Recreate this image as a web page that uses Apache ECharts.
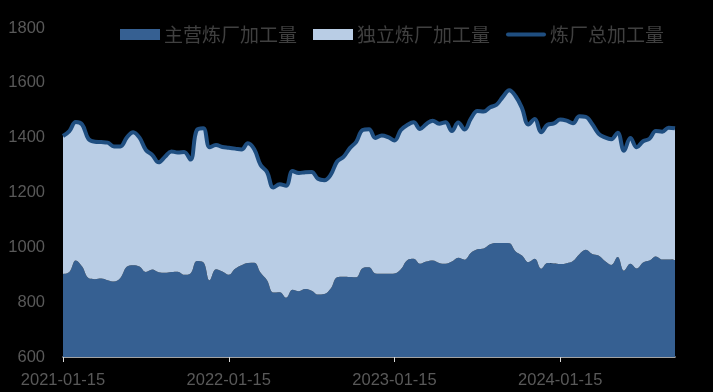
<!DOCTYPE html>
<html>
<head>
<meta charset="utf-8">
<script src="https://cdn.jsdelivr.net/npm/echarts@6/dist/echarts.min.js"></script>
<style>
html,body{margin:0;padding:0;background:#000;}
#chart{width:713px;height:392px;}
</style>
</head>
<body>
<div id="chart"></div>
<script>
// Biweekly observation dates starting 2021-01-15 (97 points)
var startDate = '2021-01-15';
var pointCount = 97;
var tickLabels = ['2021-01-15', '2022-01-15', '2023-01-15', '2024-01-15'];
var labelEvery = 26;

// 主营炼厂加工量
var mainRefinery = [903,910,952,930,888,884,886,880,875,888,
  929,935,930,910,919,909,907,910,911,900,
  905,950,946,880,920,912,900,922,935,943,
  944,907,880,835,836,816,845,840,848,842,
  828,830,850,891,893,892,891,924,927,905,
  904,904,905,920,953,958,940,948,952,943,
  940,948,962,955,980,993,996,1011,1016,1016,
  1015,985,970,946,958,922,943,941,939,942,
  950,975,991,976,970,950,936,965,915,940,
  923,945,952,967,956,956,954];

// 独立炼厂加工量
var independentRefinery = [503,514,505,518,507,501,498,502,493,480,
  471,485,470,445,418,401,423,440,435,448,
  415,478,488,485,453,454,463,438,422,437,
  414,393,395,383,394,409,433,431,426,433,
  422,415,415,422,437,470,494,504,504,494,
  504,498,485,508,493,498,492,502,510,508,
  516,476,493,475,490,504,499,500,504,533,
  558,566,538,502,510,498,504,511,527,520,
  503,503,485,474,445,451,458,453,437,459,
  442,442,444,457,466,480,480];

// 炼厂总加工量
var totalRefinery = [1406,1424,1457,1448,1395,1385,1384,1382,1368,1368,
  1400,1420,1400,1355,1337,1310,1330,1350,1346,1348,
  1320,1428,1434,1365,1373,1366,1363,1360,1357,1380,
  1358,1300,1275,1218,1230,1225,1278,1271,1274,1275,
  1250,1245,1265,1313,1330,1362,1385,1428,1431,1399,
  1408,1402,1390,1428,1446,1456,1432,1450,1462,1451,
  1456,1424,1455,1430,1470,1497,1495,1511,1520,1549,
  1573,1551,1508,1448,1468,1420,1447,1452,1466,1462,
  1453,1478,1476,1450,1415,1401,1394,1418,1352,1399,
  1365,1387,1396,1424,1422,1436,1434];

var categories = [];
(function(){
  var d = new Date(startDate + 'T00:00:00Z');
  for (var i = 0; i < pointCount; i++) {
    var dd = new Date(d.getTime() + i * 14 * 86400000);
    categories.push(dd.toISOString().slice(0, 10));
  }
})();

var chart = echarts.init(document.getElementById('chart'), null, {renderer: 'canvas'});
var axisFont = '"Liberation Sans", Arial, sans-serif';
var cjkFont = '"Noto Sans CJK SC", sans-serif';
var lineIcon = 'path://M0,0 M40,11 M2,3.5 L38,3.5 A2,2 0 0 1 38,7.5 L2,7.5 A2,2 0 0 1 2,3.5 Z';

chart.setOption({
  backgroundColor: '#000000',
  animation: false,
  grid: {left: 63, right: 38, top: 28, bottom: 35, containLabel: false},
  legend: {
    left: 120,
    top: 25,
    padding: 0,
    itemWidth: 40,
    itemHeight: 11,
    itemGap: 16,
    textStyle: {color: '#404040', fontSize: 19, fontFamily: cjkFont, padding: [0, 0, 0, -1]},
    data: [
      {name: '主营炼厂加工量', icon: 'rect'},
      {name: '独立炼厂加工量', icon: 'rect'},
      {name: '炼厂总加工量', icon: lineIcon}
    ]
  },
  xAxis: {
    type: 'category',
    data: categories,
    boundaryGap: false,
    axisLine: {show: true, lineStyle: {color: '#d9d9d9', width: 1.5}},
    axisTick: {show: true, interval: labelEvery - 1, length: 5, lineStyle: {color: '#d9d9d9', width: 1}},
    axisLabel: {
      interval: labelEvery - 1,
      color: '#595959',
      fontSize: 16.5,
      fontFamily: axisFont,
      margin: 15,
      formatter: function (v, idx) {
        var k = Math.round(idx / labelEvery);
        return tickLabels[k] || '';
      }
    },
    splitLine: {show: false}
  },
  yAxis: {
    type: 'value',
    min: 600,
    max: 1800,
    interval: 200,
    axisLine: {show: false},
    axisTick: {show: false},
    splitLine: {show: false},
    axisLabel: {
      color: '#595959', fontSize: 16.5, fontFamily: axisFont, margin: 18,
      formatter: function (v) { return String(v); }
    }
  },
  series: [
    {
      name: '主营炼厂加工量',
      type: 'line',
      stack: 'refinery',
      data: mainRefinery,
      smooth: 0.4,
      symbol: 'none',
      lineStyle: {width: 0},
      itemStyle: {color: '#366092'},
      areaStyle: {color: '#366092', opacity: 1}
    },
    {
      name: '独立炼厂加工量',
      type: 'line',
      stack: 'refinery',
      data: independentRefinery,
      smooth: 0.4,
      symbol: 'none',
      lineStyle: {width: 0},
      itemStyle: {color: '#b9cde5'},
      areaStyle: {color: '#b9cde5', opacity: 1}
    },
    {
      name: '炼厂总加工量',
      type: 'line',
      data: totalRefinery,
      smooth: 0.4,
      symbol: 'none',
      itemStyle: {color: '#1f4e80'},
      lineStyle: {color: '#1f4e80', width: 4}
    }
  ]
});
</script>
</body>
</html>
